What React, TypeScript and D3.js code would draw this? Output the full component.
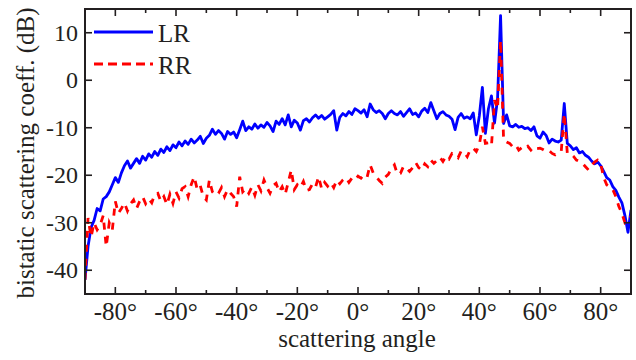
import React, { useEffect, useRef } from 'react';
import * as d3 from 'd3';

// scattering angle grid, 1 degree steps
const angles = d3.range(-90, 91, 1);

// LR (co-pol) bistatic scattering coefficient, dB
const lrValues = [
  -42, -35, -31, -29.5, -27, -27.5, -25, -24.5, -23.5, -22,
  -20.5, -21.5, -19.5, -18, -17, -18.5, -17.5, -16.5, -17.5, -16,
  -16.8, -15.5, -16.2, -15, -15.8, -14.5, -15.2, -14, -14.8, -13.6,
  -14.2, -13, -13.8, -12.8, -13.5, -12.4, -13.2, -12.6, -11.8, -13.3,
  -12.2, -11.6, -10.3, -11.4, -10.6, -11.2, -12.4, -10.8, -11.4, -10.9,
  -12.1, -10.4, -8.6, -10.6, -9.8, -10.3, -9.2, -10.1, -9.4, -9.9,
  -8.9, -9.6, -10.8, -8.6, -9.3, -8.1, -9.4, -7.3, -9.8, -8.4,
  -9.0, -10.5, -8.5, -8.1, -8.8, -7.9, -7.3, -8.0, -7.4, -8.2,
  -7.7, -7.2, -6.4, -10.5, -7.8, -7.0, -7.5, -6.6, -7.2, -6.0,
  -6.4, -6.9, -6.2, -7.7, -5.0, -6.2, -6.8, -6.4, -7.0, -8.1,
  -7.0, -6.4, -7.0, -7.3, -6.6, -7.6, -6.8, -6.0, -7.2, -6.9,
  -7.7, -6.5, -5.9, -6.8, -4.7, -6.4, -8.1, -7.0, -6.6, -7.3,
  -7.6, -8.2, -10.4, -7.8, -7.0, -8.0, -7.7, -8.1, -6.9, -11.5,
  -7.5, -1.5, -11.2, -6.0, -3.3, -9.0, -4.0, 13.6, -9.1, -7.3,
  -9.6, -9.8, -9.3, -9.9, -9.7, -10.2, -10.0, -10.6, -9.8, -11.7,
  -12.2, -10.9, -11.6, -13.2, -12.4, -12.8, -13.0, -12.6, -4.9, -13.3,
  -13.8, -14.6, -14.2, -15.3, -15.0, -15.8, -16.2, -17.0, -17.6, -17.2,
  -18.0, -19.2, -20.5, -21.0, -22.4, -23.2, -24.6, -25.8, -28.5, -32.0,
  -27.3,
];

// RR (cross-pol) bistatic scattering coefficient, dB
const rrValues = [
  -42, -29, -33, -30, -31.5, -30.5, -28.5, -35, -30, -31.5,
  -25.5, -28, -27, -25.8, -27.5, -26, -25.2, -27, -25.5, -24.5,
  -26, -25, -25.8, -24, -23.8, -25.5, -24.5, -26.2, -24, -25.9,
  -23.5, -24.8, -22.8, -22.4, -24.5, -22, -20.3, -23, -22.2, -24.5,
  -25.2, -21, -23.5, -24.2, -23.8, -22.6, -24.5, -23, -23.8, -24.5,
  -26.6, -20.3, -23.5, -22.8, -23.8, -22.5, -24.2, -22, -23.3, -21,
  -22.6, -23.8, -22.2, -21.7, -23.5, -22.4, -24, -21.5, -18.9, -23,
  -22, -22.6, -21.3, -23.2, -23, -21.8, -22.5, -20.3, -22.8, -21.5,
  -22.3, -21.5, -22.6, -21, -21.8, -21, -20.5, -21.5, -20.6, -21,
  -20.2, -20.6, -19.9, -20.4, -17.8, -19.5, -20.3, -21.1, -21.7, -20.4,
  -19.8, -18.6, -17.8, -19.8, -19.6, -18.1, -18.5, -19.2, -18.4, -17.3,
  -18.4, -18.9, -17.6, -18.2, -16.8, -17.5, -16.9, -16.2, -17.1, -16.0,
  -16.6, -15.4, -15.6, -16.3, -14.9, -15.2, -16.1, -14.6, -14.3, -15.0,
  -13.6, -9.8, -13.3, -13.2, -13.8, -4.2, -6.0, 8.4, -12.6, -13.0,
  -13.3, -14.0, -13.6, -14.7, -14.2, -14.5, -13.9, -14.7, -14.0, -14.4,
  -14.3, -14.6, -15.0, -14.8, -15.4, -15.7, -15.3, -15.0, -7.0, -15.3,
  -15.4, -16.0, -16.8, -17.1, -17.5, -18.2, -18.9, -18.0, -17.2, -16.8,
  -17.5, -20.5, -22.0, -22.5, -23.0, -24.5, -26.6, -28.0, -30.0, -29.5,
  -28.7,
];

const xMajorTicks = [-80, -60, -40, -20, 0, 20, 40, 60, 80];
const xAllTicks = d3.range(-90, 91, 10);
const yTicks = [-40, -30, -20, -10, 0, 10];
const seriesNames = ['LR', 'RR'];

const App: React.FC = () => {
  const chartRef = useRef<SVGSVGElement | null>(null);

  useEffect(() => {
    renderChart();
  }, []);

  const renderChart = () => {
    const W = 636;
    const H = 360;
    const plot = { left: 85, right: 631, top: 9, bottom: 294 };
    const ink = '#231f20';
    const font = '"Liberation Serif", "Times New Roman", serif';

    d3.select(chartRef.current).selectAll('*').remove();
    const svg = d3.select(chartRef.current)
      .attr('width', W)
      .attr('height', H);

    const x = d3.scaleLinear().domain([-90, 90]).range([plot.left, plot.right]);
    const y = d3.scaleLinear().domain([-45, 15]).range([plot.bottom, plot.top]);

    svg.append('defs').append('clipPath').attr('id', 'plot-clip')
      .append('rect')
      .attr('x', plot.left)
      .attr('y', plot.top)
      .attr('width', plot.right - plot.left)
      .attr('height', plot.bottom - plot.top);

    const line = d3.line<number>()
      .x((_, i) => x(angles[i]))
      .y(d => y(d));

    const lines = svg.append('g').attr('clip-path', 'url(#plot-clip)');
    lines.append('path')
      .datum(lrValues)
      .attr('d', line)
      .attr('fill', 'none')
      .attr('stroke', '#0000ff')
      .attr('stroke-width', 2.8)
      .attr('stroke-linejoin', 'round');

    lines.append('path')
      .datum(rrValues)
      .attr('d', line)
      .attr('fill', 'none')
      .attr('stroke', '#ff0000')
      .attr('stroke-width', 2.8)
      .attr('stroke-dasharray', '7,7');

    // frame
    svg.append('rect')
      .attr('x', plot.left)
      .attr('y', plot.top)
      .attr('width', plot.right - plot.left)
      .attr('height', plot.bottom - plot.top)
      .attr('fill', 'none')
      .attr('stroke', ink)
      .attr('stroke-width', 2);

    // x ticks, bottom and top, pointing inward
    xAllTicks.forEach(t => {
      const len = xMajorTicks.includes(t) ? 7 : 4;
      svg.append('line')
        .attr('x1', x(t)).attr('x2', x(t))
        .attr('y1', plot.bottom).attr('y2', plot.bottom - len)
        .attr('stroke', ink).attr('stroke-width', 1.6);
      svg.append('line')
        .attr('x1', x(t)).attr('x2', x(t))
        .attr('y1', plot.top).attr('y2', plot.top + len)
        .attr('stroke', ink).attr('stroke-width', 1.6);
    });

    xMajorTicks.forEach(t => {
      svg.append('text')
        .attr('x', x(t))
        .attr('y', 320)
        .attr('text-anchor', 'middle')
        .style('font-family', font)
        .style('font-size', '25px')
        .style('fill', ink)
        .text(`${t}°`);
    });

    // y ticks, left and right
    yTicks.forEach(t => {
      svg.append('line')
        .attr('x1', plot.left).attr('x2', plot.left + 7)
        .attr('y1', y(t)).attr('y2', y(t))
        .attr('stroke', ink).attr('stroke-width', 1.6);
      svg.append('line')
        .attr('x1', plot.right).attr('x2', plot.right - 7)
        .attr('y1', y(t)).attr('y2', y(t))
        .attr('stroke', ink).attr('stroke-width', 1.6);
      svg.append('text')
        .attr('x', 78)
        .attr('y', y(t))
        .attr('dy', '0.34em')
        .attr('text-anchor', 'end')
        .style('font-family', font)
        .style('font-size', '24px')
        .style('fill', ink)
        .text(`${t}`);
    });

    // axis titles
    svg.append('text')
      .attr('x', 357)
      .attr('y', 347)
      .attr('text-anchor', 'middle')
      .style('font-family', font)
      .style('font-size', '25px')
      .style('fill', ink)
      .text('scattering angle');

    svg.append('text')
      .attr('transform', 'translate(34,153) rotate(-90)')
      .attr('text-anchor', 'middle')
      .style('font-family', font)
      .style('font-size', '25px')
      .style('fill', ink)
      .text('bistatic scattering coeff. (dB)');

    // legend
    const legend = svg.append('g');
    seriesNames.forEach((name, i) => {
      const ly = 32 + i * 32;
      legend.append('line')
        .attr('x1', 94).attr('x2', 153)
        .attr('y1', ly).attr('y2', ly)
        .attr('stroke', i === 0 ? '#0000ff' : '#ff0000')
        .attr('stroke-width', 2.8)
        .attr('stroke-dasharray', i === 0 ? null : '9,5');
      legend.append('text')
        .attr('x', 158)
        .attr('y', ly + 10)
        .style('font-family', font)
        .style('font-size', '25px')
        .style('fill', ink)
        .text(name);
    });
  };

  return (
    <div>
      <svg ref={chartRef} style={{ position: 'absolute', left: 0, top: 0 }}></svg>
    </div>
  );
};

export default App;
